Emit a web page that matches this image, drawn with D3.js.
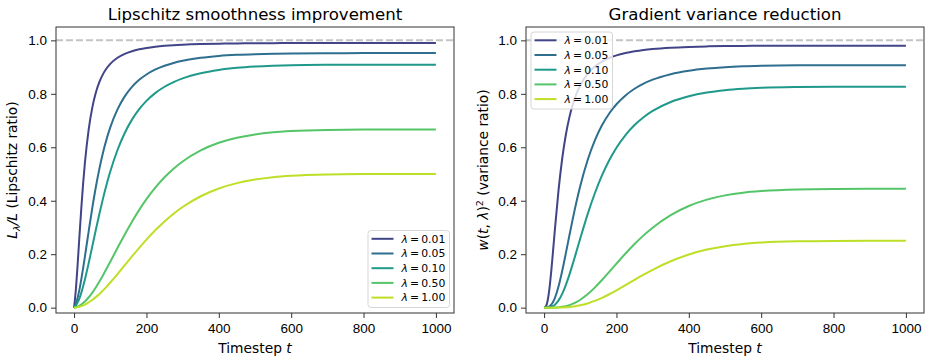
<!DOCTYPE html>
<html lang="en">
<head>
<meta charset="UTF-8">
<title>Lipschitz smoothness / gradient variance</title>
<script src="https://cdn.jsdelivr.net/npm/d3@7/dist/d3.min.js"></script>
<style>
  body { margin: 0; background: #fff; }
  svg { font-family: "DejaVu Sans", sans-serif; }
</style>
</head>
<body>
<div id="chart"></div>
<script>
// timesteps
const timesteps = [0, 5, 10, 15, 20, 25, 30, 40, 50, 60, 70, 80, 90, 100, 120, 140, 160, 180, 200,
  225, 250, 275, 300, 350, 400, 450, 500, 550, 600, 700, 800, 900, 1000];

const lambdaLabels = ["0.01", "0.05", "0.10", "0.50", "1.00"];

// left panel: L_lambda / L
const lipschitz001 = [0, 0.0697, 0.1662, 0.2718, 0.3735, 0.4647, 0.5430, 0.6636, 0.7464, 0.8038, 0.8443, 0.8737, 0.8955, 0.9121,
  0.9350, 0.9497, 0.9595, 0.9665, 0.9716, 0.9761, 0.9794, 0.9819, 0.9837, 0.9862, 0.9877, 0.9887, 0.9893, 0.9896, 0.9898,
  0.9900, 0.9900, 0.9901, 0.9901];
const lipschitz005 = [0, 0.0148, 0.0383, 0.0695, 0.1065, 0.1479, 0.1920, 0.2829, 0.3705, 0.4503, 0.5203, 0.5804, 0.6315, 0.6747,
  0.7420, 0.7905, 0.8259, 0.8523, 0.8723, 0.8911, 0.9050, 0.9155, 0.9235, 0.9346, 0.9415, 0.9458, 0.9485, 0.9502, 0.9512,
  0.9521, 0.9523, 0.9524, 0.9524];
const lipschitz010 = [0, 0.0074, 0.0195, 0.0360, 0.0563, 0.0799, 0.1062, 0.1647, 0.2274, 0.2906, 0.3516, 0.4089, 0.4615, 0.5091,
  0.5899, 0.6535, 0.7034, 0.7426, 0.7736, 0.8036, 0.8265, 0.8441, 0.8579, 0.8772, 0.8894, 0.8972, 0.9021, 0.9051, 0.9069,
  0.9085, 0.9090, 0.9091, 0.9091];
const lipschitz050 = [0, 0.0015, 0.0040, 0.0074, 0.0118, 0.0171, 0.0232, 0.0380, 0.0556, 0.0757, 0.0979, 0.1215, 0.1463, 0.1718,
  0.2234, 0.2739, 0.3217, 0.3659, 0.4059, 0.4500, 0.4879, 0.5200, 0.5470, 0.5884, 0.6167, 0.6357, 0.6481, 0.6560, 0.6607,
  0.6651, 0.6663, 0.6666, 0.6667];
const lipschitz100 = [0, 0.0007, 0.0020, 0.0037, 0.0059, 0.0086, 0.0117, 0.0193, 0.0286, 0.0394, 0.0514, 0.0647, 0.0789, 0.0940,
  0.1257, 0.1587, 0.1917, 0.2239, 0.2546, 0.2903, 0.3226, 0.3513, 0.3764, 0.4168, 0.4458, 0.4660, 0.4794, 0.4881, 0.4934,
  0.4982, 0.4996, 0.4999, 0.5000];

// right panel: w(t, lambda)^2
const variance001 = [0, 0.0049, 0.0276, 0.0739, 0.1395, 0.2159, 0.2948, 0.4404, 0.5571, 0.6461, 0.7128, 0.7634, 0.8019, 0.8319,
  0.8742, 0.9019, 0.9206, 0.9341, 0.9440, 0.9528, 0.9592, 0.9641, 0.9677, 0.9726, 0.9756, 0.9775, 0.9787, 0.9793, 0.9797,
  0.9801, 0.9801, 0.9803, 0.9803];
const variance005 = [0, 0.0002, 0.0015, 0.0048, 0.0114, 0.0219, 0.0369, 0.0800, 0.1373, 0.2028, 0.2707, 0.3369, 0.3988, 0.4552,
  0.5506, 0.6249, 0.6821, 0.7264, 0.7609, 0.7941, 0.8190, 0.8381, 0.8529, 0.8735, 0.8864, 0.8945, 0.8997, 0.9029, 0.9048,
  0.9065, 0.9069, 0.9071, 0.9071];
const variance010 = [0, 0.0001, 0.0004, 0.0013, 0.0032, 0.0064, 0.0113, 0.0271, 0.0517, 0.0845, 0.1236, 0.1672, 0.2130, 0.2592,
  0.3480, 0.4271, 0.4948, 0.5515, 0.5985, 0.6458, 0.6831, 0.7125, 0.7360, 0.7695, 0.7910, 0.8050, 0.8138, 0.8192, 0.8225,
  0.8254, 0.8263, 0.8265, 0.8265];
const variance050 = [0, 0.0000, 0.0000, 0.0001, 0.0001, 0.0003, 0.0005, 0.0014, 0.0031, 0.0057, 0.0096, 0.0148, 0.0214, 0.0295,
  0.0499, 0.0750, 0.1035, 0.1339, 0.1648, 0.2025, 0.2380, 0.2704, 0.2992, 0.3462, 0.3803, 0.4041, 0.4200, 0.4303, 0.4365,
  0.4424, 0.4440, 0.4444, 0.4444];
const variance100 = [0, 0.0000, 0.0000, 0.0000, 0.0000, 0.0001, 0.0001, 0.0004, 0.0008, 0.0015, 0.0026, 0.0042, 0.0062, 0.0088,
  0.0158, 0.0252, 0.0368, 0.0501, 0.0648, 0.0843, 0.1041, 0.1234, 0.1417, 0.1737, 0.1987, 0.2172, 0.2298, 0.2382, 0.2434,
  0.2482, 0.2496, 0.2499, 0.2500];

const xTicks = [0, 200, 400, 600, 800, 1000];
const yTicks = [0, 0.2, 0.4, 0.6, 0.8, 1.0];

const colors = ["#414487", "#2e6e8e", "#1f998a", "#54c568", "#bddf26"];

const W = 931, H = 362;
const svg = d3.select("#chart").append("svg")
  .attr("width", W).attr("height", H);

function drawPanel(opts) {
  const left = opts.left, right = opts.left + 398, top = 27, bottom = 313;
  const x = d3.scaleLinear().domain([-50, 1050]).range([left, right]);
  const y = d3.scaleLinear().domain([-0.02, 1.05]).range([bottom, top]);

  const g = svg.append("g");

  // reference line at 1.0
  g.append("line")
    .attr("x1", left).attr("x2", right)
    .attr("y1", y(1)).attr("y2", y(1))
    .attr("stroke", "#c4c4c4").attr("stroke-width", 2)
    .attr("stroke-dasharray", "7,3");

  const line = d3.line()
    .x((d, i) => x(timesteps[i]))
    .y(d => y(d))
    .curve(d3.curveMonotoneX);

  opts.series.forEach((s, i) => {
    g.append("path")
      .attr("d", line(s))
      .attr("fill", "none")
      .attr("stroke", colors[i])
      .attr("stroke-width", 2);
  });

  // axes
  const xAxis = g.append("g")
    .attr("transform", `translate(0,${bottom})`)
    .call(d3.axisBottom(x).tickValues(xTicks).tickSize(5).tickPadding(5).tickFormat(d3.format("d")));
  const yAxis = g.append("g")
    .attr("transform", `translate(${left},0)`)
    .call(d3.axisLeft(y).tickValues(yTicks).tickSize(5).tickPadding(4).tickFormat(d3.format(".1f")));
  [xAxis, yAxis].forEach(a => {
    a.select(".domain").remove();
    a.selectAll("line").attr("stroke", "#333").attr("stroke-width", 1);
    a.selectAll("text").attr("fill", "#000").style("font-size", "13.5px");
  });

  // frame
  g.append("rect")
    .attr("x", left).attr("y", top)
    .attr("width", right - left).attr("height", bottom - top)
    .attr("fill", "none").attr("stroke", "#333").attr("stroke-width", 1);

  // title
  g.append("text")
    .attr("x", (left + right) / 2).attr("y", 19.5)
    .attr("text-anchor", "middle")
    .style("font-size", "16.6px").attr("fill", "#000")
    .text(opts.title);

  // x label
  const xl = g.append("text")
    .attr("x", (left + right) / 2).attr("y", 353)
    .attr("text-anchor", "middle")
    .style("font-size", "13.8px").attr("fill", "#000");
  xl.append("tspan").text("Timestep ");
  xl.append("tspan").style("font-style", "italic").text("t");

  // y label
  const yl = g.append("text")
    .attr("transform", `translate(${opts.ylabelX},${(top + bottom) / 2}) rotate(-90)`)
    .attr("text-anchor", "middle")
    .style("font-size", "13.8px").attr("fill", "#000");
  opts.ylabel(yl);

  // legend
  const lg = g.append("g").attr("transform", `translate(${opts.legend[0]},${opts.legend[1]})`);
  lg.append("rect")
    .attr("width", 81.5).attr("height", 77).attr("rx", 3)
    .attr("fill", "#fff").attr("fill-opacity", 0.8)
    .attr("stroke", "#d6d6d6").attr("stroke-width", 1);
  lambdaLabels.forEach((lab, i) => {
    const yy = 8.3 + i * 14.7;
    lg.append("line")
      .attr("x1", 3.5).attr("x2", 25.5)
      .attr("y1", yy).attr("y2", yy)
      .attr("stroke", colors[i]).attr("stroke-width", 2);
    const t = lg.append("text")
      .attr("x", 33.5).attr("y", yy + 3.8)
      .style("font-size", "10.8px").attr("fill", "#000");
    t.append("tspan").style("font-style", "italic").text("\u03bb");
    t.append("tspan").text("\u2009=\u2009" + lab);
  });
}

drawPanel({
  left: 56,
  title: "Lipschitz smoothness improvement",
  series: [lipschitz001, lipschitz005, lipschitz010, lipschitz050, lipschitz100],
  ylabelX: 17,
  ylabel: yl => {
    yl.append("tspan").style("font-style", "italic").text("L");
    yl.append("tspan").style("font-style", "italic").style("font-size", "9.5px").attr("dy", 3).text("\u03bb");
    yl.append("tspan").style("font-style", "italic").attr("dy", -3).text("/L");
    yl.append("tspan").text(" (Lipschitz ratio)");
  },
  legend: [368, 230.5]
});

drawPanel({
  left: 526,
  title: "Gradient variance reduction",
  series: [variance001, variance005, variance010, variance050, variance100],
  ylabelX: 488,
  ylabel: yl => {
    yl.append("tspan").style("font-style", "italic").text("w");
    yl.append("tspan").text("(");
    yl.append("tspan").style("font-style", "italic").text("t");
    yl.append("tspan").text(", ");
    yl.append("tspan").style("font-style", "italic").text("\u03bb");
    yl.append("tspan").text(")");
    yl.append("tspan").style("font-size", "9.5px").attr("dy", -5).text("2");
    yl.append("tspan").attr("dy", 5).text(" (variance ratio)");
  },
  legend: [531, 32]
});
</script>
</body>
</html>
